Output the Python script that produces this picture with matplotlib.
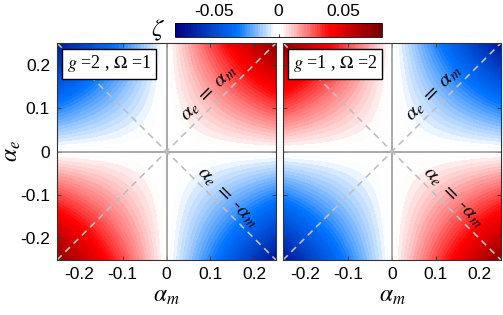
import numpy as np
import matplotlib
matplotlib.use('Agg')
import matplotlib.pyplot as plt
from matplotlib.colors import LinearSegmentedColormap

# parametros de cada panel
g_vals = [2, 1]
omega_vals = [1, 2]
k_zeta = 1.15          # escala de zeta
alpha_lim = 0.25
ticks = [-0.2, -0.1, 0, 0.1, 0.2]
tick_labels = ['-0.2', '-0.1', '0', '0.1', '0.2']
cbar_ticks = [-0.05, 0, 0.05]
cbar_labels = ['-0.05', '0', '0.05']
zmax = 0.08

plt.rcParams['font.family'] = ['Liberation Sans', 'DejaVu Sans']
plt.rcParams['mathtext.fontset'] = 'stix'

cmap = LinearSegmentedColormap.from_list(
    'bwr_m', [(0.0, (0.0, 0.0, 0.5)), (0.3, (0.0, 0.45, 1.0)),
              (0.485, (1.0, 1.0, 1.0)), (0.515, (1.0, 1.0, 1.0)),
              (0.75, (1.0, 0.0, 0.0)), (1.0, (0.45, 0.0, 0.0))])

am = np.linspace(-alpha_lim, alpha_lim, 401)
ae = np.linspace(-alpha_lim, alpha_lim, 401)
AM, AE = np.meshgrid(am, ae)
levels = np.linspace(-zmax, zmax, 81)

fig = plt.figure(figsize=(5.03, 3.15), dpi=100)
pos = [[57/503, 55/315, 219/503, 217/315],
       [283/503, 55/315, 218/503, 217/315]]

for i in range(2):
    ax = fig.add_axes(pos[i])
    Z = k_zeta * (g_vals[i] - omega_vals[i]) * AE * AM
    cf = ax.contourf(AM, AE, Z, levels=levels, cmap=cmap, vmin=-zmax, vmax=zmax)
    ax.axhline(0, color='0.6', lw=1.2)
    ax.axvline(0, color='0.6', lw=1.2)
    ax.plot([-alpha_lim, alpha_lim], [-alpha_lim, alpha_lim], '--', color='0.75',
            lw=1.2, dashes=(4, 3))
    ax.plot([-alpha_lim, alpha_lim], [alpha_lim, -alpha_lim], '--', color='0.75',
            lw=1.2, dashes=(4, 3))
    ax.set_xlim(-alpha_lim, alpha_lim)
    ax.set_ylim(-alpha_lim, alpha_lim)
    ax.set_xticks(ticks)
    ax.set_xticklabels(tick_labels)
    ax.set_yticks(ticks)
    ax.set_yticklabels(tick_labels)
    ax.tick_params(direction='in', length=3, width=0.6, top=True, right=True,
                   labelsize=12.5, pad=5, color='0.2')
    for s in ax.spines.values():
        s.set_color('0.2')
        s.set_linewidth(0.8)
    if i == 1:
        ax.tick_params(labelleft=False)
    else:
        ax.set_ylabel(r'$\alpha_e$', fontsize=17)
        ax.yaxis.set_label_coords(-0.155, 0.5)
    ax.set_xlabel(r'$\alpha_m$', fontsize=17, labelpad=2)
    ax.text(0.095, 0.135, r'$\alpha_e\;=\;\alpha_m$', rotation=45, fontsize=15,
            ha='center', va='center')
    ax.text(0.14, -0.105, r'$\alpha_e\;=\;$-$\alpha_m$', rotation=-45, fontsize=15,
            ha='center', va='center')
    ax.text(0.045, 0.905, r'$g$ =%d , $\Omega$ =%d' % (g_vals[i], omega_vals[i]),
            transform=ax.transAxes, fontsize=13, family='Liberation Serif',
            ha='left', va='center',
            bbox=dict(boxstyle='square,pad=0.25', fc='white', ec='black', lw=1.0))

cax = fig.add_axes([175/503, 278/315, 207/503, 14/315])
cb = fig.colorbar(cf, cax=cax, orientation='horizontal')
cb.set_ticks(cbar_ticks)
cb.set_ticklabels(cbar_labels)
cax.xaxis.set_ticks_position('top')
cax.tick_params(direction='in', length=2, labelsize=12.5, pad=3, color='0.3',
                bottom=True, top=False, labelbottom=False, labeltop=True)
cb.outline.set_linewidth(0.6)
fig.text(158/503, 1 - 30/315, r'$\zeta$', fontsize=18, ha='center', va='center')

fig.savefig('out.png', dpi=100)
